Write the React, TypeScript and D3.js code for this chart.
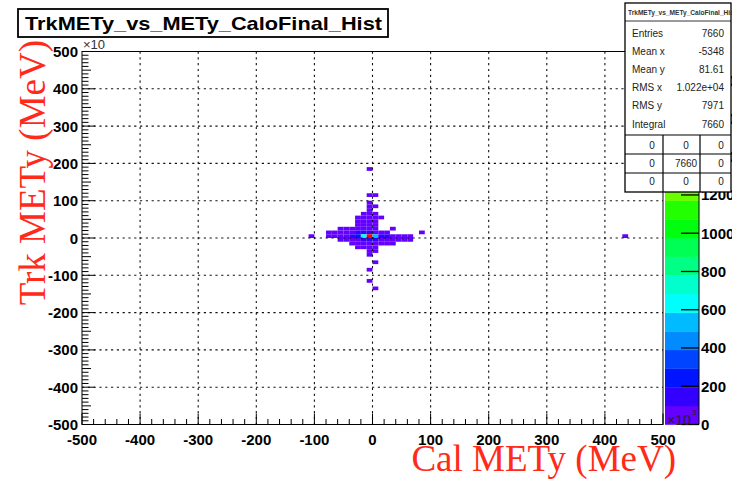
import React from 'react';
import * as d3 from 'd3';

const W = 732;
const H = 481;

// Axis ranges and tick values (axis units, ×10)
const xDomain: [number, number] = [-500, 500];
const yDomain: [number, number] = [-500, 500];
const xTicks = d3.range(-500, 501, 100);
const yTicks = d3.range(-500, 501, 100);
const xMinorTicks = d3.range(-500, 501, 20);
const yMinorTicks = d3.range(-500, 501, 10);
const zTicks = [0, 200, 400, 600, 800, 1000, 1200, 1400, 1600, 1800];
const binWidth = 10;
const nContours = 20;

// Filled bins: [y bin low edge, x low edge of first bin, counts of consecutive x bins]
const cellRows: [number, number, number[]][] = [
  [180, -10, [8]],
  [110, -10, [15, 10]],
  [90, -10, [15]],
  [80, -10, [20, 10]],
  [70, -10, [25]],
  [60, -20, [10, 30, 10]],
  [50, -30, [10, 20, 40, 15, 8]],
  [40, -30, [15, 30, 50, 20]],
  [30, -30, [20, 40, 60, 30]],
  [20, -60, [8, 10, 20, 30, 50, 70, 40, 0, 0, 6]],
  [10, -80, [8, 12, 20, 30, 60, 110, 160, 150, 90, 40, 15]],
  [10, 80, [5]],
  [0, -110, [5]],
  [0, -80, [20, 30, 40, 60, 110, 260, 640, 1950, 540, 180, 120, 60, 40, 20, 10]],
  [0, 430, [3]],
  [-10, -60, [10, 20, 40, 70, 120, 170, 160, 80, 40, 20, 10, 8, 5]],
  [-20, -40, [10, 20, 40, 60, 50, 30, 15, 8]],
  [-30, -30, [15, 30, 30, 10]],
  [-40, -10, [20, 10]],
  [-50, -10, [10]],
  [-70, 0, [12]],
  [-90, -10, [6]],
  [-120, -10, [6]],
  [-140, 0, [5]],
];

// Statistics panel
const statLabels = ['Entries', 'Mean x', 'Mean y', 'RMS x', 'RMS y', 'Integral'];
const statValues = ['7660', '-5348', '81.61', '1.022e+04', '7971', '7660'];
const flowTable = [
  ['0', '0', '0'],
  ['0', '7660', '0'],
  ['0', '0', '0'],
];

const histTitle = 'TrkMETy_vs_METy_CaloFinal_Hist';
const xTitle = 'Cal METy (MeV)';
const yTitle = 'Trk METy (MeV)';

const SANS = "'Liberation Sans', Arial, Helvetica, sans-serif";
const SERIF = "'Liberation Serif', 'Times New Roman', serif";

// 50-colour violet→red palette, 20 contour levels mapped onto it
function levelColor(k: number): string {
  const ci = Math.floor((k + 0.99) * 50 / nContours);
  const hue = 280 - (ci + 1) * (280 / 50);
  return d3.hsl(hue, 1, 0.5).formatHex();
}

export default function App() {
  const frame = { left: 82, right: 663, top: 51.5, bottom: 424.5 };
  const x = d3.scaleLinear().domain(xDomain).range([frame.left, frame.right]);
  const y = d3.scaleLinear().domain(yDomain).range([frame.bottom, frame.top]);

  const cells = cellRows.flatMap(([yb, x0, counts]) =>
    counts.map((c, i) => ({ xb: x0 + i * binWidth, yb, c })).filter((d) => d.c > 0)
  );
  const zMax = d3.max(cells, (d) => d.c) as number;
  const dz = zMax / nContours;
  const level = (c: number) => Math.min(nContours - 1, Math.floor(c / dz));

  const bar = { left: 665, right: 699 };
  const z = d3.scaleLinear().domain([0, zMax]).range([frame.bottom, frame.top]);
  const levels = d3.range(nContours);

  const gridStyle = { stroke: '#111', strokeWidth: 1.1, strokeDasharray: '2.2,3.6' };

  const stats = { x: 625, y: 3, w: 106, h: 189 };
  const rowY = (i: number) => 37 + i * 18.1;
  const tableLines = [135, 154, 173];
  const colCenters = [652, 686, 721];
  const tableRowY = [148.5, 167, 185];

  return (
    <svg
      width={W}
      height={H}
      viewBox={`0 0 ${W} ${H}`}
      style={{ position: 'absolute', left: 0, top: 0, background: '#fff' }}
    >
      <rect x={0} y={0} width={W} height={H} fill="#fff" />

      {/* histogram cells */}
      <g>
        {cells.map((d, i) => (
          <rect
            key={i}
            x={x(d.xb)}
            y={y(d.yb + binWidth)}
            width={x(d.xb + binWidth) - x(d.xb)}
            height={y(d.yb) - y(d.yb + binWidth)}
            fill={levelColor(level(d.c))}
          />
        ))}
      </g>

      {/* grid */}
      <g>
        {xTicks.slice(1, -1).map((t) => (
          <line key={'gx' + t} x1={x(t)} x2={x(t)} y1={frame.top} y2={frame.bottom} {...gridStyle} />
        ))}
        {yTicks.slice(1, -1).map((t) => (
          <line key={'gy' + t} y1={y(t)} y2={y(t)} x1={frame.left} x2={frame.right} {...gridStyle} />
        ))}
      </g>

      {/* frame */}
      <rect
        x={frame.left}
        y={frame.top}
        width={frame.right - frame.left}
        height={frame.bottom - frame.top}
        fill="none"
        stroke="#000"
        strokeWidth={1}
      />

      {/* x axis ticks */}
      <g stroke="#000" strokeWidth={1}>
        {xMinorTicks.map((t) => {
          const major = t % 100 === 0;
          return (
            <line key={'tx' + t} x1={x(t)} x2={x(t)} y1={frame.bottom} y2={frame.bottom - (major ? 11 : 5.5)} />
          );
        })}
        {yMinorTicks.map((t) => {
          const major = t % 100 === 0;
          const mid = t % 50 === 0;
          return (
            <line key={'ty' + t} y1={y(t)} y2={y(t)} x1={frame.left} x2={frame.left + (major ? 13 : mid ? 9 : 6.5)} />
          );
        })}
      </g>

      {/* tick labels */}
      <g fontFamily={SANS} fontWeight="bold" fontSize={15} fill="#000">
        {xTicks.map((t) => (
          <text key={'lx' + t} x={x(t)} y={frame.bottom + 20} textAnchor="middle">
            {t}
          </text>
        ))}
        {yTicks.map((t) => (
          <text key={'ly' + t} x={frame.left - 4} y={y(t) + 5.5} textAnchor="end">
            {t}
          </text>
        ))}
      </g>
      <text x={frame.left + 1} y={frame.top - 3} fontFamily={SANS} fontSize={13} fill="#333">
        ×10
      </text>

      {/* axis titles */}
      <text x={676} y={471} textAnchor="end" fontFamily={SERIF} fontSize={37} fill="#ff2a1a">
        {xTitle}
      </text>
      <text
        transform="translate(45,40) rotate(-90)"
        textAnchor="end"
        fontFamily={SERIF}
        fontSize={37}
        fill="#ff2a1a"
      >
        {yTitle}
      </text>

      {/* colour scale */}
      <g>
        {levels.map((k) => (
          <rect
            key={'band' + k}
            x={bar.left}
            y={z((k + 1) * dz)}
            width={bar.right - bar.left}
            height={z(k * dz) - z((k + 1) * dz) + 0.3}
            fill={levelColor(k)}
          />
        ))}
        <line x1={bar.right} x2={bar.right} y1={frame.top} y2={frame.bottom} stroke="#000" strokeWidth={1} />
        {zTicks.map((t) => (
          <g key={'z' + t}>
            <line x1={bar.right - 18} x2={bar.right} y1={z(t)} y2={z(t)} stroke="#000" strokeWidth={1.3} />
            <text x={bar.right + 2} y={z(t) + 5.5} fontFamily={SANS} fontWeight="bold" fontSize={15} fill="#000">
              {t}
            </text>
          </g>
        ))}
        <text x={bar.left + 2} y={frame.bottom} fontFamily={SANS} fontSize={14} fill="#222">
          ×10
        </text>
        <text x={bar.left + 27} y={frame.bottom - 10} fontFamily={SANS} fontSize={8} fill="#222">
          3
        </text>
      </g>

      {/* title */}
      <rect x={18} y={9} width={370} height={28} fill="#fff" stroke="#000" strokeWidth={1.8} />
      <text
        x={25}
        y={29.5}
        fontFamily={SANS}
        fontWeight="bold"
        fontSize={19}
        fill="#000"
        textLength={357}
        lengthAdjust="spacingAndGlyphs"
      >
        {histTitle}
      </text>

      {/* statistics box */}
      <g>
        <rect x={stats.x} y={stats.y} width={stats.w} height={stats.h} fill="#fff" stroke="#000" strokeWidth={1.3} />
        <line x1={stats.x} x2={stats.x + stats.w} y1={21} y2={21} stroke="#000" strokeWidth={0.8} />
        <text
          x={stats.x + 3}
          y={15}
          fontFamily={SANS}
          fontWeight="bold"
          fontSize={6.5}
          fill="#333"
          textLength={108}
          lengthAdjust="spacingAndGlyphs"
        >
          {histTitle}
        </text>
        {statLabels.map((s, i) => (
          <g key={'st' + i} fontFamily={SANS} fontSize={10} fill="#222">
            <text x={stats.x + 7} y={rowY(i)}>
              {s}
            </text>
            <text x={stats.x + stats.w - 7} y={rowY(i)} textAnchor="end">
              {statValues[i]}
            </text>
          </g>
        ))}
        {tableLines.map((ly) => (
          <line key={'tl' + ly} x1={stats.x} x2={stats.x + stats.w} y1={ly} y2={ly} stroke="#000" strokeWidth={1.2} />
        ))}
        <line x1={663} x2={663} y1={tableLines[0]} y2={stats.y + stats.h} stroke="#000" strokeWidth={1.2} />
        <line x1={700} x2={700} y1={tableLines[0]} y2={stats.y + stats.h} stroke="#000" strokeWidth={1.2} />
        {flowTable.map((row, r) =>
          row.map((v, c) => (
            <text
              key={'ft' + r + c}
              x={colCenters[c]}
              y={tableRowY[r]}
              textAnchor="middle"
              fontFamily={SANS}
              fontSize={10}
              fill="#222"
            >
              {v}
            </text>
          ))
        )}
      </g>
    </svg>
  );
}
